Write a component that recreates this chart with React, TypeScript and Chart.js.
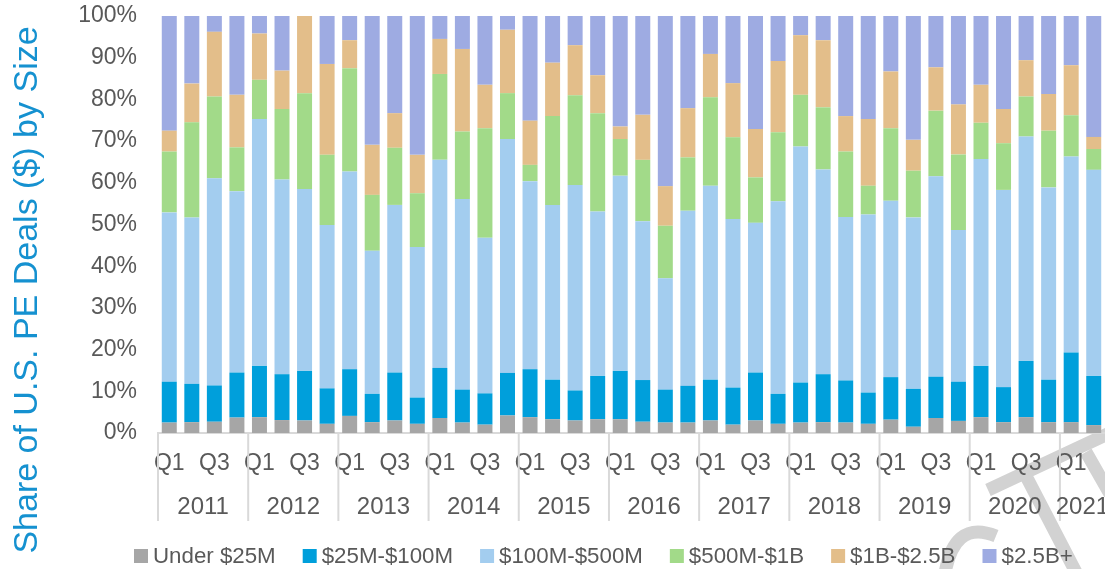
import React, { useEffect, useRef } from "react";
import { Chart, registerables } from "chart.js";

Chart.register(...registerables);

const categories = [
  "2011 Q1", "2011 Q2", "2011 Q3", "2011 Q4",
  "2012 Q1", "2012 Q2", "2012 Q3", "2012 Q4",
  "2013 Q1", "2013 Q2", "2013 Q3", "2013 Q4",
  "2014 Q1", "2014 Q2", "2014 Q3", "2014 Q4",
  "2015 Q1", "2015 Q2", "2015 Q3", "2015 Q4",
  "2016 Q1", "2016 Q2", "2016 Q3", "2016 Q4",
  "2017 Q1", "2017 Q2", "2017 Q3", "2017 Q4",
  "2018 Q1", "2018 Q2", "2018 Q3", "2018 Q4",
  "2019 Q1", "2019 Q2", "2019 Q3", "2019 Q4",
  "2020 Q1", "2020 Q2", "2020 Q3", "2020 Q4",
  "2021 Q1", "2021 Q2",
];

const yTickValues = [0, 10, 20, 30, 40, 50, 60, 70, 80, 90, 100];

const under25M = [
  2.5, 2.6, 2.7, 3.7, 3.8, 3.1, 3.0, 2.2, 4.1, 2.6, 3.0, 2.2, 3.6, 2.5, 2.0, 4.2,
  3.8, 3.3, 3.0, 3.3, 3.3, 2.7, 2.5, 2.5, 3.0, 2.0, 3.0, 2.2, 2.5, 2.6, 2.5, 2.2,
  3.2, 1.5, 3.6, 2.9, 3.8, 2.6, 3.8, 2.6, 2.6, 1.9,
];
const m25to100 = [
  9.8, 9.2, 8.7, 10.8, 12.3, 11.0, 11.9, 8.5, 11.2, 6.8, 11.5, 6.3, 12.0, 7.9, 7.5, 10.2,
  11.5, 9.5, 7.2, 10.4, 11.6, 10.0, 7.9, 8.8, 9.8, 8.9, 11.5, 7.2, 9.6, 11.5, 10.1, 7.5,
  10.2, 9.1, 9.9, 9.4, 12.3, 8.4, 13.5, 10.2, 16.7, 11.8,
];
const m100to500 = [
  40.6, 39.9, 49.7, 43.5, 59.2, 46.7, 43.6, 39.2, 47.4, 34.3, 40.2, 36.1, 49.9, 45.7, 37.3, 56.1,
  45.1, 41.9, 49.3, 39.4, 46.8, 38.1, 26.7, 42.0, 46.5, 40.4, 35.9, 46.2, 56.6, 49.1, 39.2, 42.7,
  42.3, 41.1, 48.1, 36.4, 49.6, 47.3, 53.8, 46.1, 47.0, 49.4,
];
const m500to1B = [
  14.6, 22.8, 19.6, 10.5, 9.4, 16.9, 23.0, 16.8, 24.8, 13.4, 13.7, 12.9, 20.6, 16.2, 26.3, 11.0,
  3.9, 21.3, 21.5, 23.6, 8.8, 14.7, 12.6, 12.8, 21.2, 19.6, 10.9, 16.5, 12.4, 14.9, 15.7, 6.9,
  17.4, 11.2, 15.7, 18.1, 8.7, 11.2, 9.6, 13.6, 9.9, 5.0,
];
const b1to2_5 = [
  5.0, 9.3, 15.5, 12.6, 11.1, 9.2, 18.5, 21.8, 6.7, 12.0, 8.3, 9.2, 8.4, 19.8, 10.4, 15.2,
  10.6, 12.8, 12.0, 9.1, 3.0, 10.8, 9.5, 11.8, 10.4, 13.0, 11.6, 17.1, 14.3, 16.1, 8.5, 16.0,
  13.6, 7.4, 10.4, 12.0, 9.1, 8.2, 8.7, 8.8, 12.0, 2.9,
];
const b2_5plus = [
  27.5, 16.2, 3.8, 18.9, 4.2, 13.1, 0.0, 11.5, 5.8, 30.9, 23.3, 33.3, 5.5, 7.9, 16.5, 3.3,
  25.1, 11.2, 7.0, 14.2, 26.5, 23.7, 40.8, 22.1, 9.1, 16.1, 27.1, 10.8, 4.6, 5.8, 24.0, 24.7,
  13.3, 29.7, 12.3, 21.2, 16.5, 22.3, 10.6, 18.7, 11.8, 29.0,
];

const seriesNames = ["Under $25M", "$25M-$100M", "$100M-$500M", "$500M-$1B", "$1B-$2.5B", "$2.5B+"];
const seriesValues = [under25M, m25to100, m100to500, m500to1B, b1to2_5, b2_5plus];
const seriesColors = ["#a6a6a6", "#009fdb", "#a3cdef", "#a2da89", "#e3be8a", "#9eabe2"];

const yAxisTitle = "Share of U.S. PE Deals ($) by Size";

const FONT = "'Liberation Sans', Arial, sans-serif";
const TEXT_GRAY = "#595959";
const LINE_GRAY = "#d9d9d9";

const watermarkPlugin = {
  id: "watermark",
  beforeDraw(chart: any) {
    const ctx = chart.ctx;
    ctx.save();
    ctx.strokeStyle = "#d2d2d2";
    ctx.lineWidth = 13;
    ctx.lineCap = "butt";
    ctx.beginPath();
    ctx.moveTo(1112, 432);
    ctx.lineTo(988, 490);
    ctx.moveTo(1026, 476);
    ctx.lineTo(1080, 580);
    ctx.moveTo(1086, 452);
    ctx.lineTo(1110, 494);
    ctx.moveTo(944, 580);
    ctx.quadraticCurveTo(952, 518, 996, 536);
    ctx.stroke();
    ctx.restore();
  },
};

const yearAxisPlugin = {
  id: "yearAxis",
  afterDraw(chart: any) {
    const ctx = chart.ctx;
    const xs = chart.scales.x;
    const area = chart.chartArea;
    const step = xs.getPixelForValue(1) - xs.getPixelForValue(0);
    const years = categories.map((c) => c.split(" ")[0]);
    ctx.save();
    ctx.strokeStyle = LINE_GRAY;
    ctx.lineWidth = 2;
    ctx.fillStyle = TEXT_GRAY;
    ctx.font = `24px ${FONT}`;
    ctx.textAlign = "center";
    ctx.textBaseline = "middle";
    let start = 0;
    for (let i = 1; i <= years.length; i++) {
      if (i === years.length || years[i] !== years[start]) {
        const left = xs.getPixelForValue(start) - step / 2;
        const right = xs.getPixelForValue(i - 1) + step / 2;
        ctx.beginPath();
        ctx.moveTo(left, area.bottom);
        ctx.lineTo(left, area.bottom + 88);
        ctx.stroke();
        ctx.fillText(years[start], (left + right) / 2, area.bottom + 74);
        start = i;
      }
    }
    ctx.restore();
  },
};

const legendPlugin = {
  id: "customLegend",
  afterDraw(chart: any) {
    const ctx = chart.ctx;
    ctx.save();
    ctx.font = `22.3px ${FONT}`;
    ctx.textBaseline = "middle";
    ctx.textAlign = "left";
    let x = 134;
    const y = 556;
    chart.data.datasets.forEach((ds: any) => {
      ctx.fillStyle = ds.backgroundColor;
      ctx.fillRect(x, y - 7, 14, 14);
      ctx.fillStyle = TEXT_GRAY;
      ctx.fillText(ds.label, x + 19, y + 1);
      x += 19 + ctx.measureText(ds.label).width + 27;
    });
    ctx.restore();
  },
};

const titlePlugin = {
  id: "yTitle",
  afterDraw(chart: any) {
    const ctx = chart.ctx;
    ctx.save();
    ctx.translate(28, 290);
    ctx.rotate(-Math.PI / 2);
    ctx.font = `34px ${FONT}`;
    ctx.fillStyle = "#1591d0";
    ctx.textAlign = "center";
    ctx.textBaseline = "middle";
    ctx.fillText(yAxisTitle, 0, 0);
    ctx.restore();
  },
};

export default function App() {
  const ref = useRef<HTMLCanvasElement | null>(null);

  useEffect(() => {
    if (!ref.current) return;
    const chart = new Chart(ref.current, {
      type: "bar",
      data: {
        labels: categories,
        datasets: seriesNames.map((name, i) => ({
          label: name,
          data: seriesValues[i],
          backgroundColor: seriesColors[i],
          borderWidth: 0,
          categoryPercentage: 1,
          barPercentage: 0.665,
        })),
      },
      options: {
        responsive: false,
        animation: false,
        layout: { padding: { left: 0, right: 0, top: 16, bottom: 0 } },
        plugins: {
          legend: { display: false },
          tooltip: { enabled: false },
          title: { display: false },
        },
        scales: {
          x: {
            stacked: true,
            offset: true,
            grid: { display: false, drawTicks: false },
            border: { display: true, color: LINE_GRAY, width: 2 },
            ticks: {
              autoSkip: false,
              maxRotation: 0,
              minRotation: 0,
              padding: 17,
              color: TEXT_GRAY,
              font: { size: 23, family: FONT },
              callback: (_v: any, i: number) => (i % 2 === 0 ? categories[i].split(" ")[1] : ""),
            },
            afterFit: (scale: any) => {
              scale.height = 136;
              scale.paddingLeft = 0;
              scale.paddingRight = 0;
              scale.paddingTop = 0;
              scale.paddingBottom = 0;
            },
          },
          y: {
            stacked: true,
            min: 0,
            max: 100,
            grid: { display: false, drawTicks: false },
            border: { display: false },
            afterBuildTicks: (scale: any) => {
              scale.ticks = yTickValues.map((v) => ({ value: v }));
            },
            ticks: {
              padding: 21,
              color: TEXT_GRAY,
              font: { size: 23, family: FONT },
              callback: (v: any) => `${v}%`,
            },
            afterFit: (scale: any) => {
              scale.width = 158;
              scale.paddingTop = 0;
              scale.paddingBottom = 0;
              scale.paddingLeft = 0;
              scale.paddingRight = 0;
            },
          },
        },
      },
      plugins: [watermarkPlugin, yearAxisPlugin, legendPlugin, titlePlugin],
    });
    return () => chart.destroy();
  }, []);

  return (
    <div style={{ position: "fixed", left: 0, top: 0, width: 1105, height: 569, overflow: "hidden", background: "#fff" }}>
      <canvas ref={ref} width={1105} height={569} style={{ display: "block" }} />
    </div>
  );
}
